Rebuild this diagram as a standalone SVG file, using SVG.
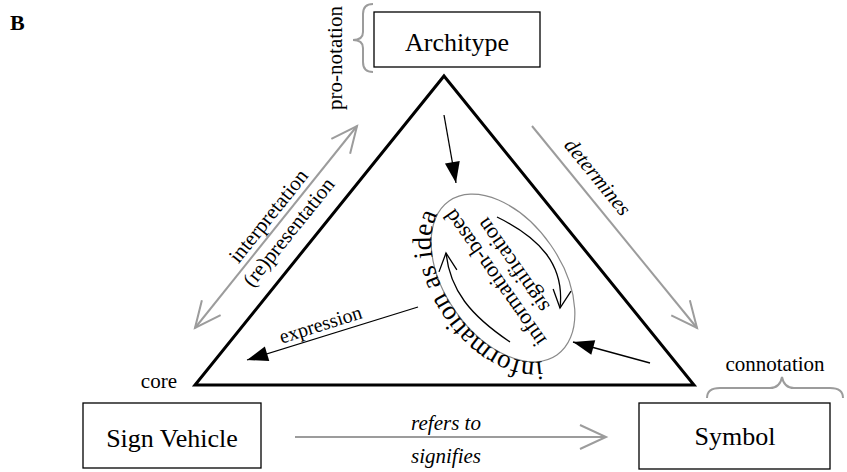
<svg xmlns="http://www.w3.org/2000/svg" width="847" height="472" viewBox="0 0 847 472">
  <style>
    text { font-family: "Liberation Serif", "Times New Roman", serif; fill: #000; }
    .box { fill: #fff; stroke: #000; stroke-width: 1.3; }
    .node-label { font-size: 26px; text-anchor: middle; }
    .label { font-size: 21px; }
    .mid { text-anchor: middle; }
    .it { font-style: italic; }
    .gray { fill: none; stroke: #9c9c9c; stroke-width: 2; }
    .brace { fill: none; stroke: #9c9c9c; stroke-width: 2; }
    .thin { fill: none; stroke: #000; stroke-width: 1.3; }
  </style>
  <defs>
    <marker id="solid" viewBox="-24 -10 26 20" markerWidth="26" markerHeight="20" refX="0" refY="0" orient="auto" markerUnits="userSpaceOnUse">
      <path d="M0,0 L-21,-7.5 L-21,7.5 Z" fill="#000"/>
    </marker>
    <marker id="open" viewBox="-30 -16 34 32" markerWidth="34" markerHeight="32" refX="0" refY="0" orient="auto-start-reverse" markerUnits="userSpaceOnUse">
      <path d="M-26,-12 L0,0 L-26,12" fill="none" stroke="#9c9c9c" stroke-width="2"/>
    </marker>
    <marker id="vee" viewBox="-22 -12 26 24" markerWidth="26" markerHeight="24" refX="0" refY="0" orient="auto" markerUnits="userSpaceOnUse">
      <path d="M-18,-9 L0,0 L-18,9" fill="none" stroke="#000" stroke-width="1.3"/>
    </marker>
  </defs>

  <rect width="847" height="472" fill="#fff"/>

  <!-- panel letter -->
  <text x="10" y="30" font-size="22" font-weight="bold">B</text>

  <!-- central triangle -->
  <g id="triangle">
    <polygon points="444,76 694,385 195,385" fill="none" stroke="#000" stroke-width="3"/>
    <text class="label" x="177" y="388" text-anchor="end" font-size="20">core</text>
  </g>

  <!-- nodes -->
  <g id="architype">
    <rect class="box" x="374" y="12" width="166" height="55"/>
    <text class="node-label" x="457" y="51">Architype</text>
    <path class="brace" d="M373,4 Q363,4 363,14 L363,32 Q363,40 353,40 Q363,40 363,48 L363,62 Q363,72 373,72"/>
    <text class="label mid" transform="translate(342,58) rotate(-90)">pro-notation</text>
  </g>

  <g id="sign-vehicle">
    <rect class="box" x="83" y="403" width="178" height="65"/>
    <text class="node-label" x="172" y="447">Sign Vehicle</text>
  </g>

  <g id="symbol">
    <rect class="box" x="639" y="403" width="191" height="66"/>
    <text class="node-label" x="735" y="445">Symbol</text>
    <text class="label mid" x="775" y="371">connotation</text>
    <path class="brace" d="M707,398 Q707,388 720,388 L770,388 Q780,388 782,377 Q784,388 794,388 L830,388 Q843,388 843,398"/>
  </g>

  <g id="idea">
    <ellipse cx="503" cy="278" rx="94" ry="58" transform="rotate(55 503 278)" fill="none" stroke="#8a8a8a" stroke-width="1.2"/>
    <!-- clockwise ring just outside the ellipse, used as the baseline of the caption -->
    <path id="ideaRing" fill="none" d="M556.92,355.01 A94,58 55 0 1 455.48,311.27 A94,58 55 0 1 449.08,200.99 A94,58 55 0 1 550.52,244.73 A94,58 55 0 1 556.92,355.01"/>
    <text font-size="27"><textPath href="#ideaRing" startOffset="16">information as idea</textPath></text>
    <g transform="translate(500.7,273.9) rotate(-125)">
      <text class="mid" font-size="22" x="0" y="0">information-based</text>
      <text class="mid" font-size="22" x="0" y="22">signification</text>
    </g>
  </g>

  <!-- connectors -->
  <g id="connectors">
    <!-- interpretation / (re)presentation -->
    <line class="gray" x1="195" y1="328" x2="357" y2="126" marker-start="url(#open)" marker-end="url(#open)"/>
    <g transform="translate(276,227) rotate(-51.3)">
      <text class="label mid" x="4" y="-6">interpretation</text>
      <text class="label mid" x="4" y="20">(re)presentation</text>
    </g>

    <!-- determines -->
    <line class="gray" x1="532" y1="126" x2="697" y2="328" marker-end="url(#open)"/>
    <text class="label mid it" transform="translate(532,126) rotate(50.9)" x="81" y="-12">determines</text>

    <!-- refers to / signifies -->
    <line class="gray" x1="295" y1="437" x2="606" y2="437" stroke-width="2.4" marker-end="url(#open)"/>
    <text class="label mid it" x="446" y="430">refers to</text>
    <text class="label mid it" x="446" y="463">signifies</text>

    <!-- inner arrows -->
    <line class="thin" x1="444" y1="115" x2="456" y2="183" marker-end="url(#solid)"/>
    <line class="thin" x1="418" y1="307" x2="247" y2="360" marker-end="url(#solid)"/>
    <text class="mid" font-size="20" transform="translate(322.5,330.8) rotate(-17.5)">expression</text>
    <line class="thin" x1="650" y1="363" x2="573" y2="342" marker-end="url(#solid)"/>

    <!-- signification cycle -->
    <path class="thin" d="M497,217 C540,238 565,265 560,308" marker-end="url(#vee)"/>
    <path class="thin" d="M510,342 C470,315 450,290 446,253" marker-end="url(#vee)"/>
  </g>
</svg>
